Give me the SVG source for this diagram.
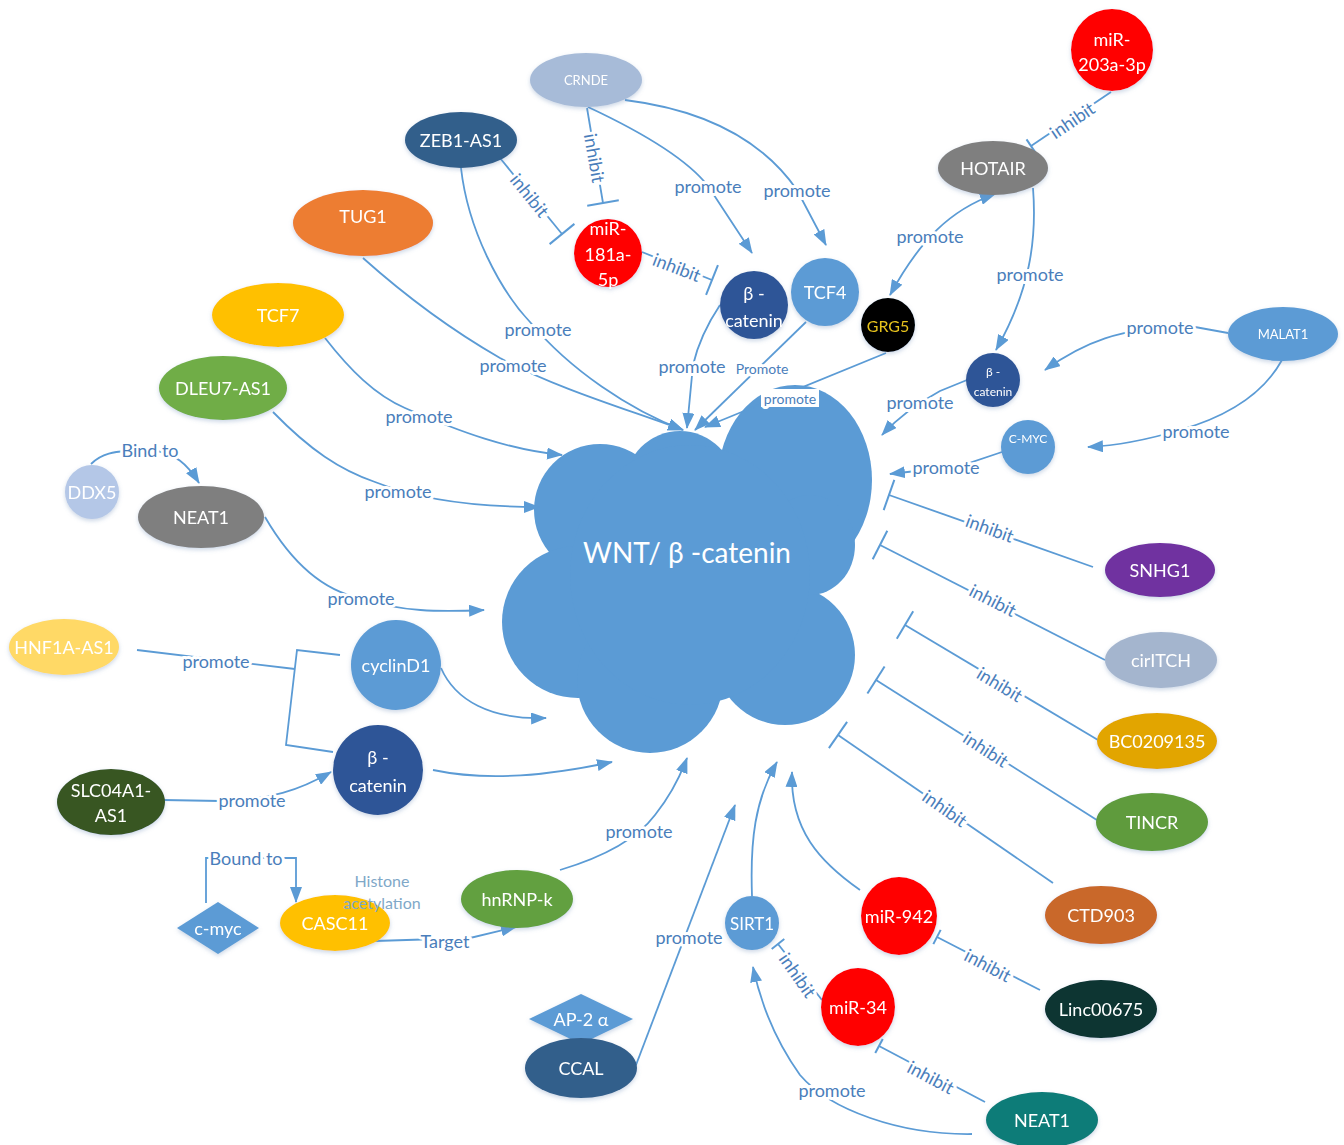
<svg xmlns="http://www.w3.org/2000/svg" width="1344" height="1145" viewBox="0 0 1344 1145">
<style>
.c{fill:none;stroke:#5B9BD5;stroke-width:1.8}
.a{marker-end:url(#arr)}
.t{marker-end:url(#tbar)}
.ts{marker-end:url(#tbars)}
.lbl{font-family:Lato,"Open Sans",sans-serif;font-size:18px;fill:#4A7EBB;text-anchor:middle;dominant-baseline:central;paint-order:stroke;stroke:#fff;stroke-width:6px;stroke-linejoin:round}
.sm{font-size:14px}
.nt{font-family:Lato,"Open Sans",sans-serif;font-size:18px;fill:#fff;text-anchor:middle;dominant-baseline:central}
.cloud{fill:#5B9BD5}
</style>
<defs>
<marker id="arr" viewBox="0 0 16 12" refX="15" refY="6" markerWidth="16" markerHeight="12" markerUnits="userSpaceOnUse" orient="auto-start-reverse"><path d="M0,0 L16,6 L0,12 z" fill="#5B9BD5"/></marker>
<marker id="tbar" viewBox="-2 -18 4 36" refX="0" refY="0" markerWidth="4" markerHeight="36" markerUnits="userSpaceOnUse" orient="auto"><path d="M0,-16 L0,16" stroke="#5B9BD5" stroke-width="2"/></marker>
<marker id="tbars" viewBox="-2 -10 4 20" refX="0" refY="0" markerWidth="4" markerHeight="20" markerUnits="userSpaceOnUse" orient="auto"><path d="M0,-8 L0,8" stroke="#5B9BD5" stroke-width="2"/></marker>
<filter id="sh" x="-20%" y="-20%" width="140%" height="150%"><feDropShadow dx="0" dy="2" stdDeviation="2" flood-color="#6f8fb8" flood-opacity="0.35"/></filter>
</defs>

<g id="wnt-cloud">
<g class="cloud">
<ellipse cx="795" cy="480" rx="77" ry="95"/>
<circle cx="680" cy="486" r="55"/>
<circle cx="600" cy="510" r="66"/>
<circle cx="578" cy="622" r="76"/>
<circle cx="650" cy="680" r="73"/>
<circle cx="785" cy="655" r="70"/>
<ellipse cx="810" cy="545" rx="45" ry="50"/>
<ellipse cx="690" cy="575" rx="120" ry="130"/>
</g>
<text class="nt" x="687" y="552" style="font-size:28px">WNT/ β -catenin</text>
</g>

<g id="connectors">
<path class="c t" d="M587,108 L603,203"/>
<path class="c t" d="M500,158 L562,234"/>
<path class="c t" d="M642,252 L712,280"/>
<path class="c a" d="M588,107 Q680,150 708,186 L752,253"/>
<path class="c a" d="M625,100 Q745,115 797,190 L826,245"/>
<path class="c a" d="M461,168 C468,230 500,290 530,322 C570,370 630,410 683,430"/>
<path class="c a" d="M363,258 C410,300 460,335 500,358 C560,390 630,410 683,430"/>
<path class="c a" d="M720,305 Q700,335 693,365 L687,428"/>
<path class="c a" d="M806,322 L695,430"/>
<path class="c a" d="M886,353 L705,427"/>
<path class="c a" style="marker-start:url(#arr)" d="M995,194 C950,210 920,240 890,295"/>
<path class="c a" d="M1033,188 C1037,240 1030,290 996,350"/>
<path class="c ts" d="M1111,92 L1031,146"/>
<path class="c a" d="M1228,333 L1195,327 C1120,325 1080,345 1045,370"/>
<path class="c a" d="M1282,360 C1260,400 1215,420 1180,430 Q1130,445 1088,447"/>
<path class="c a" d="M967,380 L940,391 Q905,410 882,435"/>
<path class="c a" d="M1002,452 L960,466 L890,474"/>
<path class="c t" d="M1093,567 L889,495"/>
<path class="c t" d="M1105,660 L880,545"/>
<path class="c t" d="M1098,740 L905,625"/>
<path class="c t" d="M1100,822 L876,680"/>
<path class="c t" d="M1053,883 L838,735"/>
<path class="c ts" d="M1040,990 L937,937"/>
<path class="c ts" d="M985,1102 L879,1046"/>
<path class="c ts" d="M822,1000 L778,944"/>
<path class="c a" d="M972,1134 C900,1135 830,1110 800,1075 C775,1040 760,1000 753,967"/>
<path class="c a" d="M860,890 C820,862 790,830 792,772"/>
<path class="c a" d="M752,896 C750,840 755,800 777,762"/>
<path class="c a" d="M636,1065 L735,805"/>
<path class="c a" d="M560,870 C610,855 640,835 655,815 Q675,790 687,758"/>
<path class="c a" d="M375,941 L470,938 L516,927"/>
<path class="c a" d="M206,903 L206,858 L296,858 L296,902"/>
<path class="c" d="M137,650 L295,669"/>
<path class="c" d="M340,655 L297,650 L286,745 L333,752"/>
<path class="c a" d="M163,800 L220,801 C270,800 300,790 331,772"/>
<path class="c a" d="M441,668 C455,700 490,720 546,718"/>
<path class="c a" d="M433,770 C490,782 550,775 612,762"/>
<path class="c a" d="M265,517 C290,560 320,590 360,598 C400,612 440,612 484,610"/>
<path class="c a" d="M91,464 C100,455 110,450 150,450 C175,452 188,465 199,483"/>
<path class="c a" d="M273,412 C310,450 340,470 375,482 C420,500 480,507 539,507"/>
<path class="c a" d="M325,338 C350,370 375,395 405,408 C460,432 510,450 562,455"/>

<text class="lbl" transform="translate(595,158) rotate(80)">inhibit</text>
<text class="lbl" transform="translate(530,195) rotate(51)">inhibit</text>
<text class="lbl" transform="translate(677,267) rotate(21)">inhibit</text>
<text class="lbl" x="708" y="186">promote</text>
<text class="lbl" x="797" y="190">promote</text>
<text class="lbl" x="538" y="329">promote</text>
<text class="lbl" x="513" y="365">promote</text>
<text class="lbl" x="692" y="366">promote</text>
<text class="lbl sm" x="762" y="368">Promote</text>
<rect x="761" y="389" width="58" height="18" fill="#fff"/>
<text class="lbl sm" x="790" y="398">promote</text>
<text class="lbl" x="930" y="236">promote</text>
<text class="lbl" x="1030" y="274">promote</text>
<text class="lbl" transform="translate(1072,120) rotate(-34)">inhibit</text>
<text class="lbl" x="1160" y="327">promote</text>
<text class="lbl" x="1196" y="431">promote</text>
<text class="lbl" x="920" y="402">promote</text>
<text class="lbl" x="946" y="467">promote</text>
<text class="lbl" transform="translate(990,528) rotate(20)">inhibit</text>
<text class="lbl" transform="translate(993,600) rotate(27)">inhibit</text>
<text class="lbl" transform="translate(1000,684) rotate(31)">inhibit</text>
<text class="lbl" transform="translate(986,749) rotate(33)">inhibit</text>
<text class="lbl" transform="translate(945,808) rotate(35)">inhibit</text>
<text class="lbl" transform="translate(988,965) rotate(28)">inhibit</text>
<text class="lbl" transform="translate(931,1077) rotate(28)">inhibit</text>
<text class="lbl" transform="translate(798,975) rotate(55)">inhibit</text>
<text class="lbl" x="832" y="1090">promote</text>
<text class="lbl" x="689" y="937">promote</text>
<text class="lbl" x="639" y="831">promote</text>
<text class="lbl" x="445" y="941">Target</text>
<text class="lbl" x="246" y="858">Bound to</text>
<text class="lbl" x="216" y="661">promote</text>
<text class="lbl" x="252" y="800">promote</text>
<text class="lbl" x="361" y="598">promote</text>
<text class="lbl" x="150" y="450">Bind to</text>
<text class="lbl" x="398" y="491">promote</text>
<text class="lbl" x="419" y="416">promote</text>
</g>

<g id="n-crnde" filter="url(#sh)"><ellipse cx="586" cy="80" rx="56" ry="27" fill="#A7BBD8"/><text class="nt" x="586" y="80" style="font-size:13px">CRNDE</text></g>
<g id="n-zeb1as1" filter="url(#sh)"><ellipse cx="461" cy="140" rx="56" ry="28" fill="#335F8B"/><text class="nt" x="461" y="140">ZEB1-AS1</text></g>
<g id="n-mir181" filter="url(#sh)"><circle cx="608" cy="253" r="34" fill="#FF0000"/><text class="nt" x="608" y="228">miR-</text><text class="nt" x="608" y="254">181a-</text><text class="nt" x="608" y="279">5p</text></g>
<g id="n-bcat-top" filter="url(#sh)"><circle cx="754" cy="305" r="34" fill="#2F5597"/><text class="nt" x="754" y="293">β -</text><text class="nt" x="754" y="320">catenin</text></g>
<g id="n-tcf4" filter="url(#sh)"><circle cx="825" cy="292" r="34" fill="#5B9BD5"/><text class="nt" x="825" y="292">TCF4</text></g>
<g id="n-grg5" filter="url(#sh)"><circle cx="888" cy="325" r="27" fill="#000"/><text class="nt" x="888" y="325" style="font-size:16px;fill:#E6C21E">GRG5</text></g>
<g id="n-mir203" filter="url(#sh)"><circle cx="1112" cy="50" r="41" fill="#FF0000"/><text class="nt" x="1112" y="39">miR-</text><text class="nt" x="1112" y="64">203a-3p</text></g>
<g id="n-hotair" filter="url(#sh)"><ellipse cx="993" cy="168" rx="55" ry="27" fill="#7F7F7F"/><text class="nt" x="993" y="168">HOTAIR</text></g>
<g id="n-bcat-right" filter="url(#sh)"><circle cx="993" cy="380" r="27" fill="#2F5597"/><text class="nt" x="993" y="371" style="font-size:12px">β -</text><text class="nt" x="993" y="391" style="font-size:12px">catenin</text></g>
<g id="n-malat1" filter="url(#sh)"><ellipse cx="1283" cy="334" rx="55" ry="27" fill="#5B9BD5"/><text class="nt" x="1283" y="334" style="font-size:13px">MALAT1</text></g>
<g id="n-cmyc-right" filter="url(#sh)"><circle cx="1028" cy="447" r="27" fill="#5B9BD5"/><text class="nt" x="1028" y="438" style="font-size:12px">C-MYC</text></g>
<g id="n-tug1" filter="url(#sh)"><ellipse cx="363" cy="223" rx="70" ry="33" fill="#ED7D31"/><text class="nt" x="363" y="216">TUG1</text></g>
<g id="n-tcf7" filter="url(#sh)"><ellipse cx="278" cy="315" rx="66" ry="32" fill="#FFC000"/><text class="nt" x="278" y="315">TCF7</text></g>
<g id="n-dleu7" filter="url(#sh)"><ellipse cx="223" cy="388" rx="64" ry="32" fill="#70AD47"/><text class="nt" x="223" y="388">DLEU7-AS1</text></g>
<g id="n-ddx5" filter="url(#sh)"><circle cx="92" cy="492" r="27" fill="#B4C7E7"/><text class="nt" x="92" y="492">DDX5</text></g>
<g id="n-neat1-left" filter="url(#sh)"><ellipse cx="201" cy="517" rx="63" ry="31" fill="#7F7F7F"/><text class="nt" x="201" y="517">NEAT1</text></g>
<g id="n-hnf1a" filter="url(#sh)"><ellipse cx="64" cy="647" rx="55" ry="28" fill="#FFD966"/><text class="nt" x="64" y="647">HNF1A-AS1</text></g>
<g id="n-cyclind1" filter="url(#sh)"><circle cx="396" cy="665" r="45" fill="#5B9BD5"/><text class="nt" x="396" y="665">cyclinD1</text></g>
<g id="n-bcat-left" filter="url(#sh)"><circle cx="378" cy="770" r="45" fill="#2F5597"/><text class="nt" x="378" y="757">β -</text><text class="nt" x="378" y="785">catenin</text></g>
<g id="n-slco4a1" filter="url(#sh)"><ellipse cx="111" cy="802" rx="54" ry="33" fill="#385723"/><text class="nt" x="111" y="790">SLC04A1-</text><text class="nt" x="111" y="815">AS1</text></g>
<g id="n-cmyc-left" filter="url(#sh)"><path d="M177,928 L218,902 L259,928 L218,954 z" fill="#5B9BD5"/><text class="nt" x="218" y="928">c-myc</text></g>
<g id="n-casc11" filter="url(#sh)"><ellipse cx="335" cy="923" rx="55" ry="28" fill="#FFC000"/><text class="nt" x="335" y="923">CASC11</text></g>
<g id="n-histone"><text class="nt" x="382" y="880" style="font-size:16px;fill:#7FA8C8">Histone</text><text class="nt" x="382" y="902" style="font-size:16px;fill:#7FA8C8">acetylation</text></g>
<g id="n-hnrnpk" filter="url(#sh)"><ellipse cx="517" cy="899" rx="56" ry="29" fill="#62A03F"/><text class="nt" x="517" y="899">hnRNP-k</text></g>
<g id="n-ap2a" filter="url(#sh)"><path d="M529,1019 L581,994 L633,1019 L581,1044 z" fill="#5B9BD5"/><text class="nt" x="581" y="1019">AP-2 α</text></g>
<g id="n-ccal" filter="url(#sh)"><ellipse cx="581" cy="1068" rx="56" ry="30" fill="#335F8B"/><text class="nt" x="581" y="1068">CCAL</text></g>
<g id="n-sirt1" filter="url(#sh)"><circle cx="752" cy="923" r="27" fill="#5B9BD5"/><text class="nt" x="752" y="923" style="font-size:17px">SIRT1</text></g>
<g id="n-mir942" filter="url(#sh)"><ellipse cx="899" cy="916" rx="38" ry="39" fill="#FF0000"/><text class="nt" x="899" y="916">miR-942</text></g>
<g id="n-mir34" filter="url(#sh)"><ellipse cx="858" cy="1007" rx="37" ry="39" fill="#FF0000"/><text class="nt" x="858" y="1007">miR-34</text></g>
<g id="n-neat1-bottom" filter="url(#sh)"><ellipse cx="1042" cy="1120" rx="56" ry="28" fill="#0E7C78"/><text class="nt" x="1042" y="1120">NEAT1</text></g>
<g id="n-linc00675" filter="url(#sh)"><ellipse cx="1101" cy="1009" rx="56" ry="29" fill="#073430"/><text class="nt" x="1101" y="1009">Linc00675</text></g>
<g id="n-ctd903" filter="url(#sh)"><ellipse cx="1101" cy="915" rx="56" ry="29" fill="#C9682A"/><text class="nt" x="1101" y="915">CTD903</text></g>
<g id="n-tincr" filter="url(#sh)"><ellipse cx="1152" cy="822" rx="56" ry="29" fill="#5E9B3E"/><text class="nt" x="1152" y="822">TINCR</text></g>
<g id="n-bc0209135" filter="url(#sh)"><ellipse cx="1157" cy="741" rx="60" ry="28" fill="#E2A500"/><text class="nt" x="1157" y="741">BC0209135</text></g>
<g id="n-ciritch" filter="url(#sh)"><ellipse cx="1161" cy="660" rx="56" ry="28" fill="#A4B5CE"/><text class="nt" x="1161" y="660">cirITCH</text></g>
<g id="n-snhg1" filter="url(#sh)"><ellipse cx="1160" cy="570" rx="55" ry="27" fill="#7030A0"/><text class="nt" x="1160" y="570">SNHG1</text></g>
</svg>
